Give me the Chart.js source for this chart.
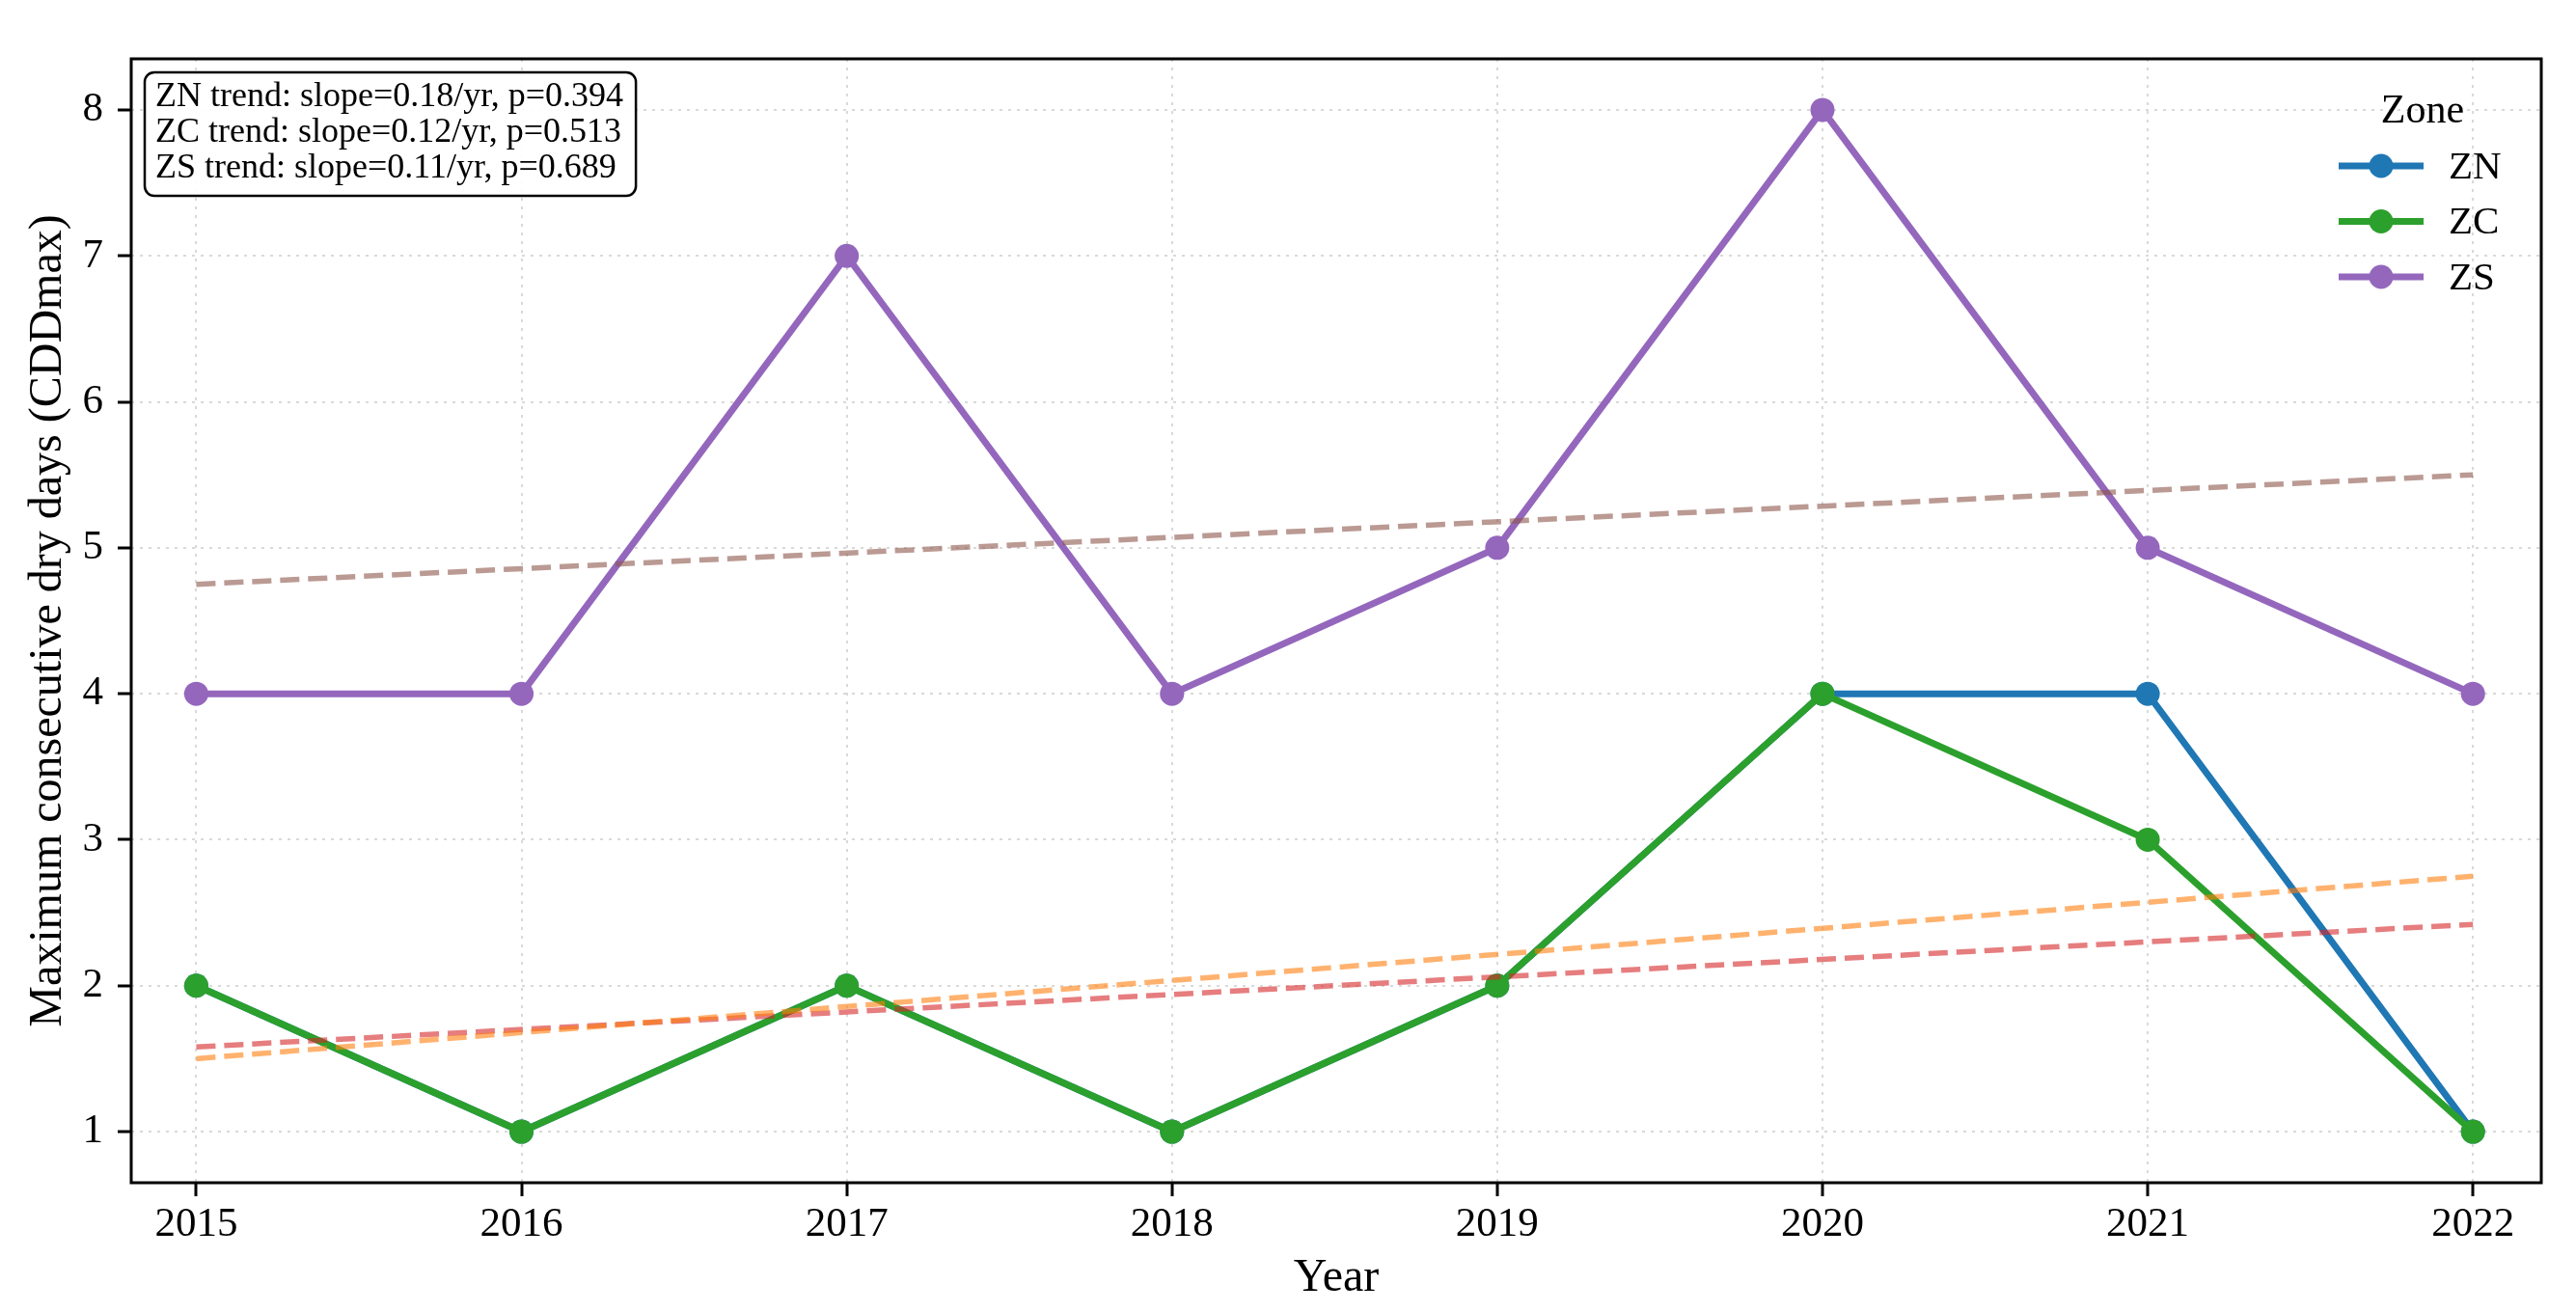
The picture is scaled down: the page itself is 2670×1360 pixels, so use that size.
<!DOCTYPE html>
<html lang="en">
<head>
<meta charset="UTF-8">
<title>Maximum consecutive dry days by zone</title>
<script src="https://cdn.jsdelivr.net/npm/chart.js@4"></script>
<style>
  html, body { margin: 0; padding: 0; background: #fff; }
  canvas { display: block; }
</style>
</head>
<body>
<canvas id="cddChart" width="2670" height="1360"></canvas>
<script>
// data
const years = [2015, 2016, 2017, 2018, 2019, 2020, 2021, 2022];
const znValues = [2, 1, 2, 1, 2, 4, 4, 1];
const zcValues = [2, 1, 2, 1, 2, 4, 3, 1];
const zsValues = [4, 4, 7, 4, 5, 8, 5, 4];

// trend lines: start and end of each fitted line
const trendYears = [2015, 2022];
const znTrend = [1.5, 2.75];
const zcTrend = [1.58, 2.42];
const zsTrend = [4.75, 5.5];

const zoneNames = ['ZN', 'ZC', 'ZS'];
const slopes = ['0.18', '0.12', '0.11'];
const pValues = ['0.394', '0.513', '0.689'];
const yTicks = [1, 2, 3, 4, 5, 6, 7, 8];

const FONT = "'Liberation Serif', 'Times New Roman', serif";
Chart.defaults.font.family = FONT;
Chart.defaults.color = '#000';

const pts = (xs, ys) => xs.map((x, i) => ({ x: x, y: ys[i] }));

function zoneSet(label, values, color, order) {
    return {
        label: label,
        zone: true,
        data: pts(years, values),
        borderColor: color,
        backgroundColor: color,
        borderWidth: 7,
        pointRadius: 12.5,
        pointBorderWidth: 0,
        pointBackgroundColor: color,
        order: order
    };
}

function trendSet(label, values, color) {
    return {
        label: label,
        data: pts(trendYears, values),
        borderColor: color,
        borderWidth: 5.5,
        borderDash: [20, 9],
        pointRadius: 0,
        order: 0
    };
}

// annotation box in the upper left corner
const statsBox = {
    id: 'statsBox',
    afterDatasetsDraw(chart) {
        const ctx = chart.ctx;
        const area = chart.chartArea;
        const lines = zoneNames.map((z, i) => z + ' trend: slope=' + slopes[i] + '/yr, p=' + pValues[i]);
        ctx.save();
        ctx.font = '36px ' + FONT;
        const w = Math.max(...lines.map(l => ctx.measureText(l).width));
        const x = area.left + 14, y = area.top + 14;
        const bw = w + 24, bh = 128;
        ctx.beginPath();
        ctx.roundRect(x, y, bw, bh, 10);
        ctx.fillStyle = 'rgba(255,255,255,0.9)';
        ctx.fill();
        ctx.lineWidth = 2.5;
        ctx.strokeStyle = '#000';
        ctx.stroke();
        ctx.fillStyle = '#000';
        ctx.textBaseline = 'middle';
        lines.forEach((l, i) => ctx.fillText(l, x + 11, y + 26 + i * 37));
        ctx.restore();
    }
};

// legend inside the plot, top right, no frame
const zoneLegend = {
    id: 'zoneLegend',
    afterDatasetsDraw(chart) {
        const ctx = chart.ctx;
        const area = chart.chartArea;
        const sets = chart.data.datasets.filter(d => d.zone);
        ctx.save();
        ctx.fillStyle = '#000';
        ctx.textBaseline = 'middle';
        ctx.textAlign = 'center';
        ctx.font = '42px ' + FONT;
        ctx.fillText('Zone', area.right - 123, area.top + 55);
        ctx.textAlign = 'left';
        ctx.font = '41px ' + FONT;
        sets.forEach((d, i) => {
            const cy = area.top + 111 + i * 57.5;
            ctx.strokeStyle = d.borderColor;
            ctx.lineWidth = 7;
            ctx.beginPath();
            ctx.moveTo(area.right - 210, cy);
            ctx.lineTo(area.right - 122, cy);
            ctx.stroke();
            ctx.fillStyle = d.borderColor;
            ctx.beginPath();
            ctx.arc(area.right - 166, cy, 12.5, 0, Math.PI * 2);
            ctx.fill();
            ctx.fillStyle = '#000';
            ctx.fillText(d.label, area.right - 96, cy + 2);
        });
        ctx.restore();
    }
};

// full box around the plot area
const frame = {
    id: 'frame',
    afterDraw(chart) {
        const a = chart.chartArea;
        const ctx = chart.ctx;
        ctx.save();
        ctx.lineWidth = 3;
        ctx.strokeStyle = '#000';
        ctx.strokeRect(a.left, a.top, a.right - a.left, a.bottom - a.top);
        ctx.restore();
    }
};

const ctx = document.getElementById('cddChart').getContext('2d');
new Chart(ctx, {
    type: 'line',
    data: {
        datasets: [
            zoneSet('ZN', znValues, '#1f77b4', 3),
            zoneSet('ZC', zcValues, '#2ca02c', 2),
            zoneSet('ZS', zsValues, '#9467bd', 1),
            trendSet('ZN trend', znTrend, 'rgba(255,127,14,0.6)'),
            trendSet('ZC trend', zcTrend, 'rgba(214,39,40,0.6)'),
            trendSet('ZS trend', zsTrend, 'rgba(140,86,75,0.6)')
        ]
    },
    options: {
        responsive: false,
        animation: false,
        devicePixelRatio: 1,
        layout: { padding: { top: 61, right: 36, left: 0, bottom: 0 } },
        plugins: {
            legend: { display: false },
            tooltip: { enabled: false }
        },
        scales: {
            x: {
                type: 'linear',
                min: 2014.8,
                max: 2022.21,
                afterBuildTicks: s => { s.ticks = years.map(v => ({ value: v })); },
                afterFit: s => { s.height = 134; },
                ticks: {
                    font: { size: 43 },
                    padding: 4,
                    maxRotation: 0,
                    callback: v => String(v)
                },
                grid: {
                    color: '#d9d9d9',
                    lineWidth: 2,
                    tickLength: 14,
                    tickColor: '#000',
                    tickWidth: 3
                },
                border: { display: false, dash: [3, 6] },
                title: {
                    display: true,
                    text: 'Year',
                    font: { size: 48, lineHeight: 1.2 },
                    padding: { top: 0, bottom: 6 }
                }
            },
            y: {
                min: 0.65,
                max: 8.35,
                afterBuildTicks: s => { s.ticks = yTicks.map(v => ({ value: v })); },
                afterFit: s => { s.width = 136; },
                ticks: {
                    font: { size: 43 },
                    padding: 15
                },
                grid: {
                    color: '#d9d9d9',
                    lineWidth: 2,
                    tickLength: 14,
                    tickColor: '#000',
                    tickWidth: 3
                },
                border: { display: false, dash: [3, 6] },
                title: {
                    display: true,
                    text: 'Maximum consecutive dry days (CDDmax)',
                    font: { size: 48, lineHeight: 1.2 },
                    padding: { top: 22, bottom: 0 }
                }
            }
        }
    },
    plugins: [statsBox, zoneLegend, frame]
});
</script>
</body>
</html>
